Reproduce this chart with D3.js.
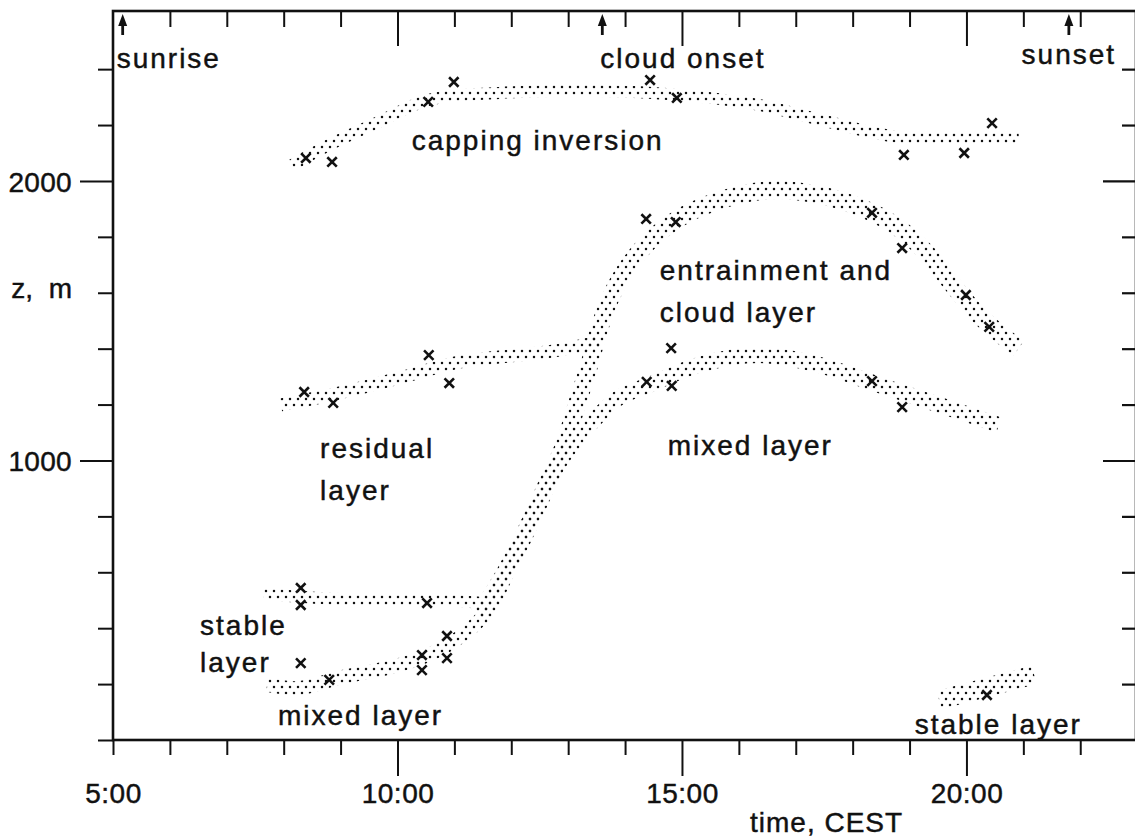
<!DOCTYPE html>
<html>
<head>
<meta charset="utf-8">
<script src="https://cdn.jsdelivr.net/npm/d3@7"></script>
<style>
  body { margin: 0; background: #fff; }
  svg { display: block; }
  text { font-family: "Liberation Sans", Arial, Helvetica, sans-serif; fill: #111; stroke: #111; stroke-width: 0.45px; }
</style>
</head>
<body>
<svg></svg>
<script>
const width = 1135;
const height = 840;

// time in hours (CEST), height z in m
const hourTicks = d3.range(5, 23);
const hourLabels = ["5:00", "10:00", "15:00", "20:00"];
const labelHours = [5, 10, 15, 20];
const heightTicks = d3.range(0, 2401, 200);
const heightLabels = [1000, 2000];

const events = ["sunrise", "cloud onset", "sunset"];
const eventTimes = [5.17, 13.6, 21.8];

// measured points (crosses)
const cappingObs = [[8.39, 2082], [8.85, 2068], [10.54, 2283], [10.99, 2354], [14.44, 2361], [14.91, 2297], [18.9, 2093], [19.96, 2100], [20.45, 2207]];
const entrainObs = [[14.37, 1864], [14.89, 1853], [18.34, 1886], [18.87, 1760], [19.99, 1592], [20.4, 1478], [14.81, 1402]];
const mixedObs = [[14.38, 1281], [14.82, 1267], [18.34, 1284], [18.87, 1191]];
const residualObs = [[8.36, 1245], [8.87, 1206], [10.55, 1377], [10.91, 1277]];
const stableAmObs = [[8.3, 544], [8.3, 483], [10.52, 490]];
const mixedAmObs = [[8.3, 275], [8.8, 215], [10.43, 304], [10.43, 250], [10.87, 372], [10.87, 293]];
const stablePmObs = [[20.36, 161]];

// hand-drawn stippled bands (centre lines)
const cappingBand = [[8.15, 2057], [8.8, 2129], [9.67, 2211], [10.55, 2290], [11.78, 2315], [13.54, 2322], [14.95, 2308], [16.35, 2272], [17.58, 2211], [18.81, 2157], [20.92, 2154]];
const residualBand = [[7.95, 1199], [8.97, 1241], [10.03, 1295], [11.08, 1352], [12.14, 1377], [12.84, 1395], [13.54, 1424]];
const entrainBand = [[11.43, 447], [11.87, 590], [12.31, 769], [12.66, 930], [12.93, 1055], [13.15, 1199], [13.37, 1342], [13.54, 1467], [13.75, 1585], [14.07, 1699], [14.51, 1800], [15.12, 1886], [16.0, 1950], [16.7, 1968], [17.41, 1950], [18.11, 1907], [18.73, 1843], [19.25, 1753], [19.69, 1646], [20.13, 1538], [20.57, 1456], [20.92, 1402]];
const mixedBand = [[11.61, 465], [12.14, 698], [12.57, 894], [12.93, 1020], [13.37, 1127], [13.89, 1224], [14.42, 1270], [15.3, 1342], [16.35, 1377], [17.41, 1342], [18.46, 1270], [19.52, 1199], [20.57, 1127]];
const stableAmBand = [[7.65, 522], [8.62, 508], [9.67, 501], [10.73, 501], [11.52, 490]];
const mixedAmBand = [[7.71, 197], [8.27, 186], [8.97, 222], [10.03, 268], [10.73, 322], [11.26, 394], [11.61, 465]];
const stablePmBand = [[19.52, 143], [21.19, 233]];

// layer names
const labelText = ["capping inversion", "entrainment and", "cloud layer", "residual", "layer", "mixed layer", "stable", "layer", "mixed layer", "stable layer"];
const labelTimes = [10.25, 14.61, 14.61, 8.64, 8.64, 14.75, 6.53, 6.53, 7.9, 19.09];
const labelHeights = [2111, 1646, 1496, 1009, 859, 1020, 376, 243, 54, 21];

const svg = d3.select("svg").attr("width", width).attr("height", height);

const x = d3.scaleLinear().domain([5, 22.98]).range([113, 1136]);
const y = d3.scaleLinear().domain([0, 2608]).range([740, 11]);

// stipple pattern for the bands (staggered dots)
const stipple = svg.append("defs").append("pattern")
  .attr("id", "stipple")
  .attr("patternUnits", "userSpaceOnUse")
  .attr("width", 8)
  .attr("height", 12);
stipple.append("circle").attr("cx", 2).attr("cy", 3).attr("r", 1.25).attr("fill", "#111");
stipple.append("circle").attr("cx", 6).attr("cy", 9).attr("r", 1.25).attr("fill", "#111");

// frame
svg.append("rect")
  .attr("x", x(5))
  .attr("y", y(2608))
  .attr("width", x(22.98) - x(5))
  .attr("height", y(0) - y(2608))
  .attr("fill", "none")
  .attr("stroke", "#111")
  .attr("stroke-width", 2.6);

const isMajorHour = (d) => d % 5 === 0 && d !== 5;

// bottom axis
const xAxisBottom = svg.append("g")
  .attr("transform", `translate(0,${y(0)})`)
  .call(d3.axisBottom(x).tickValues(hourTicks).tickSize(15)
    .tickFormat((d) => (labelHours.includes(d) ? hourLabels[labelHours.indexOf(d)] : "")));
xAxisBottom.select(".domain").remove();
xAxisBottom.selectAll(".tick line")
  .attr("stroke", "#111").attr("stroke-width", 2)
  .attr("y2", (d) => (isMajorHour(d) ? 36 : 15));
xAxisBottom.selectAll(".tick text")
  .attr("y", 63).attr("dy", 0)
  .style("font-size", "28px")
  .style("letter-spacing", "0.5px")
  .attr("fill", "#111");

// top axis (ticks inward)
const xAxisTop = svg.append("g")
  .attr("transform", `translate(0,${y(2608)})`)
  .call(d3.axisBottom(x).tickValues(hourTicks.slice(1)).tickSize(15).tickFormat(""));
xAxisTop.select(".domain").remove();
xAxisTop.selectAll(".tick line")
  .attr("stroke", "#111").attr("stroke-width", 2)
  .attr("y2", (d) => (isMajorHour(d) ? 35 : 16));

// left axis
const yAxisLeft = svg.append("g")
  .attr("transform", `translate(${x(5)},0)`)
  .call(d3.axisLeft(y).tickValues(heightTicks).tickSize(15)
    .tickFormat((d) => (heightLabels.includes(d) ? d : "")));
yAxisLeft.select(".domain").remove();
yAxisLeft.selectAll(".tick line")
  .attr("stroke", "#111").attr("stroke-width", 2)
  .attr("x2", (d) => (d % 1000 === 0 && d > 0 ? -33 : -15));
yAxisLeft.selectAll(".tick text")
  .attr("x", -41)
  .attr("dy", "0.37em")
  .style("font-size", "28px")
  .style("letter-spacing", "0.3px")
  .attr("fill", "#111");

// right axis (ticks inward)
const yAxisRight = svg.append("g")
  .attr("transform", `translate(${x(22.98)},0)`)
  .call(d3.axisLeft(y).tickValues(heightTicks.slice(1)).tickSize(14).tickFormat(""));
yAxisRight.select(".domain").remove();
yAxisRight.selectAll(".tick line")
  .attr("stroke", "#111").attr("stroke-width", 2.2)
  .attr("x2", (d) => (d % 1000 === 0 ? -33 : -14));

// axis titles
svg.append("text")
  .attr("x", 72)
  .attr("y", 298)
  .attr("text-anchor", "end")
  .style("font-size", "28px")
  .style("white-space", "pre")
  .text("z,  m");

svg.append("text")
  .attr("x", 750)
  .attr("y", 832)
  .style("font-size", "28px")
  .style("letter-spacing", "1px")
  .text("time, CEST");

// stippled bands
const line = d3.line()
  .x((d) => x(d[0]))
  .y((d) => y(d[1]))
  .curve(d3.curveCatmullRom.alpha(0.5));

const bands = [
  { pts: cappingBand, w: 12 },
  { pts: residualBand, w: 13 },
  { pts: entrainBand, w: 18 },
  { pts: mixedBand, w: 16 },
  { pts: stableAmBand, w: 12 },
  { pts: mixedAmBand, w: 14 },
  { pts: stablePmBand, w: 19 },
];

svg.append("g")
  .selectAll("path")
  .data(bands)
  .join("path")
  .attr("d", (d) => line(d.pts))
  .attr("fill", "none")
  .attr("stroke", "url(#stipple)")
  .attr("stroke-width", (d) => d.w);

// crosses
const allObs = [].concat(cappingObs, entrainObs, mixedObs, residualObs, stableAmObs, mixedAmObs, stablePmObs);
const cross = d3.symbol().type(d3.symbolTimes).size(60);
svg.append("g")
  .selectAll("path")
  .data(allObs)
  .join("path")
  .attr("transform", (d) => `translate(${x(d[0])},${y(d[1])})`)
  .attr("d", cross)
  .attr("fill", "none")
  .attr("stroke", "#111")
  .attr("stroke-width", 2.6);

// layer labels
svg.append("g")
  .selectAll("text")
  .data(labelText)
  .join("text")
  .attr("x", (d, i) => x(labelTimes[i]))
  .attr("y", (d, i) => y(labelHeights[i]))
  .style("font-size", "28px")
  .style("letter-spacing", "2px")
  .text((d) => d);

// event arrows along the top
const eventAnchor = ["start", "start", "middle"];
const eventShift = [-6, -2, 0];
const ev = svg.append("g")
  .selectAll("g")
  .data(events)
  .join("g")
  .attr("transform", (d, i) => `translate(${x(eventTimes[i])},0)`);

ev.append("line")
  .attr("y1", 22).attr("y2", 35)
  .attr("stroke", "#111").attr("stroke-width", 2.8);
ev.append("path")
  .attr("d", "M0,14 L-4.5,26 L4.5,26 Z")
  .attr("fill", "#111");
ev.append("text")
  .attr("x", (d, i) => eventShift[i])
  .attr("y", (d, i) => (i === 2 ? 64 : 68))
  .attr("text-anchor", (d, i) => eventAnchor[i])
  .style("font-size", "28px")
  .style("letter-spacing", "2px")
  .text((d) => d);
</script>
</body>
</html>
